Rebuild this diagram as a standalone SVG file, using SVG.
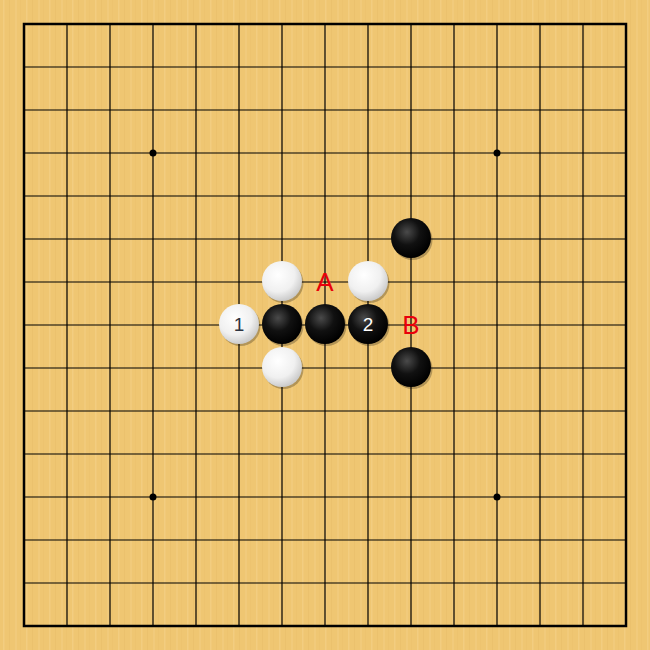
<svg xmlns="http://www.w3.org/2000/svg" width="650" height="650" viewBox="0 0 650 650">
<defs>
<radialGradient id="gb" cx="0.4" cy="0.35" r="0.65">
<stop offset="0" stop-color="#4a4a4a"/>
<stop offset="0.5" stop-color="#111"/>
<stop offset="1" stop-color="#000"/>
</radialGradient>
<radialGradient id="gw" cx="0.4" cy="0.35" r="0.7">
<stop offset="0" stop-color="#ffffff"/>
<stop offset="0.6" stop-color="#f0f0f0"/>
<stop offset="1" stop-color="#c4c4c4"/>
</radialGradient>
<pattern id="grain" width="23" height="650" patternUnits="userSpaceOnUse">
<rect width="23" height="650" fill="#efc672"/>
<rect x="3" width="1.5" height="650" fill="#f5d48e" opacity="0.5"/>
<rect x="9" width="1" height="650" fill="#e6ba66" opacity="0.4"/>
<rect x="15" width="2" height="650" fill="#f4d089" opacity="0.4"/>
<rect x="20" width="1" height="650" fill="#e8bd69" opacity="0.35"/>
</pattern>
</defs>
<style>
.ln{stroke:#000;stroke-width:1.2}
.b{fill:url(#gb)}
.w{fill:url(#gw)}
.sh{fill:#000;opacity:0.25}
.lbl{font-family:"Liberation Sans",Arial,sans-serif;font-size:26px;fill:#e8000b;text-anchor:middle}
.num{font-family:"Liberation Sans",Arial,sans-serif;font-size:19px;text-anchor:middle}
</style>
<rect width="650" height="650" fill="url(#grain)"/>
<g id="grid">
<path class="ln" d="M67,24V626M110,24V626M153,24V626M196,24V626M239,24V626M282,24V626M325,24V626M368,24V626M411,24V626M454,24V626M497,24V626M540,24V626M583,24V626"/>
<path class="ln" d="M24,67H626M24,110H626M24,153H626M24,196H626M24,239H626M24,282H626M24,325H626M24,368H626M24,411H626M24,454H626M24,497H626M24,540H626M24,583H626"/>
<rect x="24" y="24" width="602" height="602" fill="none" stroke="#000" stroke-width="2.5"/>
<circle cx="153" cy="153" r="3.5"/><circle cx="497" cy="153" r="3.5"/><circle cx="153" cy="497" r="3.5"/><circle cx="497" cy="497" r="3.5"/>
</g>
<g id="shadows">
<circle class="sh" cx="412.5" cy="240" r="20"/>
<circle class="sh" cx="283.5" cy="283" r="20"/>
<circle class="sh" cx="369.5" cy="283" r="20"/>
<circle class="sh" cx="240.5" cy="326" r="20"/>
<circle class="sh" cx="283.5" cy="326" r="20"/>
<circle class="sh" cx="326.5" cy="326" r="20"/>
<circle class="sh" cx="369.5" cy="326" r="20"/>
<circle class="sh" cx="283.5" cy="369" r="20"/>
<circle class="sh" cx="412.5" cy="369" r="20"/>
</g>
<g id="stones">
<circle class="b" cx="411" cy="238" r="20"/>
<circle class="w" cx="282" cy="281" r="20"/>
<circle class="w" cx="368" cy="281" r="20"/>
<g id="s1"><circle class="w" cx="239" cy="324" r="20"/><text class="num" x="239" y="331" fill="#2d3340">1</text></g>
<circle class="b" cx="282" cy="324" r="20"/>
<circle class="b" cx="325" cy="324" r="20"/>
<g id="s2"><circle class="b" cx="368" cy="324" r="20"/><text class="num" x="368" y="331" fill="#fff">2</text></g>
<circle class="w" cx="282" cy="367" r="20"/>
<circle class="b" cx="411" cy="367" r="20"/>
</g>
<g id="labels">
<text class="lbl" x="325" y="291">A</text>
<text class="lbl" x="411" y="334">B</text>
</g>
</svg>
